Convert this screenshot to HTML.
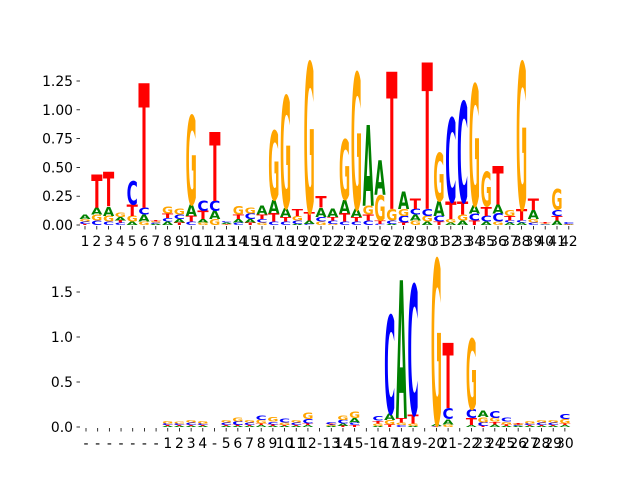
<!DOCTYPE html>
<html><head><meta charset="utf-8"><style>
html,body{margin:0;padding:0;background:#fff;}
svg{display:block;font-family:"DejaVu Sans","Liberation Sans",sans-serif;}
</style></head><body>
<svg id="chart" width="640" height="480" viewBox="0 0 640 480" xmlns="http://www.w3.org/2000/svg">
<g id="top"></g>
<g id="bot"></g>
</svg>
<script>
// Top logo data (42 positions)
const topLabels = ["1","2","3","4","5","6","7","8","9","10","11","12","13","14","15","16","17","18","19","20","21","22","23","24","25","26","27","28","29","30","31","32","33","34","35","36","37","38","39","40","41","42"];
const topA = [0.04,0.06,0.08,0.03,0.03,0.06,0.01,0.03,0.03,0.10,0.03,0.07,0.01,0.03,0.03,0.08,0.12,0.08,0.01,0.03,0.08,0.07,0.12,0.07,0.70,0.30,0.01,0.15,0.05,0.03,0.13,0.02,0.04,0.07,0.03,0.08,0.02,0.02,0.08,0.005,0.04,0.003];
const topC = [0.02,0.04,0.03,0.02,0.20,0.06,0.01,0.03,0.04,0.03,0.09,0.09,0.01,0.02,0.05,0.03,0.03,0.03,0.03,0.01,0.04,0.03,0.03,0.03,0.04,0.01,0.03,0.06,0.05,0.06,0.05,0.73,0.87,0.06,0.05,0.07,0.02,0.02,0.02,0.005,0.05,0.015];
const topG = [0.02,0.05,0.05,0.04,0.05,0.03,0.01,0.06,0.05,0.77,0.02,0.05,0.005,0.07,0.05,0.02,0.60,0.97,0.04,1.30,0.03,0.01,0.52,1.18,0.08,0.22,0.10,0.06,0.04,0.05,0.42,0.03,0.05,1.05,0.30,0.03,0.05,1.27,0.03,0.005,0.18,0.003];
const topT = [0.01,0.29,0.30,0.02,0.10,1.08,0.01,0.04,0.02,0.05,0.07,0.60,0.005,0.04,0.02,0.04,0.07,0.04,0.06,0.07,0.10,0.03,0.07,0.04,0.05,0.03,1.19,0.02,0.09,1.27,0.03,0.15,0.11,0.04,0.08,0.33,0.04,0.10,0.10,0.01,0.04,0.003];
const topYTicks = [0,0.25,0.5,0.75,1.0,1.25];
const topYTickLabels = ["0.00","0.25","0.50","0.75","1.00","1.25"];

// Bottom logo data (42 positions)
const botLabels = ["-","-","-","-","-","-","-","1","2","3","4","-","5","6","7","8","9","10","11","12","-","13","14","15","-","16","17","18","19","-","20","21","-","22","23","24","25","26","27","28","29","30"];
const botA = [0,0,0,0,0,0,0,0.01,0.01,0.01,0.01,0,0.01,0.01,0.01,0.02,0.01,0.01,0.01,0.02,0,0.01,0.03,0.05,0,0.01,0.07,1.53,0.01,0,0.02,0.06,0,0.02,0.07,0.03,0.01,0.01,0.01,0.01,0.01,0.02];
const botC = [0,0,0,0,0,0,0,0.02,0.02,0.03,0.02,0,0.03,0.04,0.03,0.05,0.03,0.04,0.03,0.05,0,0.03,0.04,0.03,0,0.05,1.09,0.02,1.44,0,0.005,0.12,0,0.10,0.04,0.08,0.04,0.01,0.02,0.03,0.03,0.06];
const botG = [0,0,0,0,0,0,0,0.03,0.02,0.03,0.03,0,0.03,0.04,0.03,0.04,0.05,0.03,0.03,0.07,0,0.01,0.05,0.07,0,0.03,0.05,0.03,0.03,0,1.83,0.03,0,0.78,0.06,0.04,0.03,0.01,0.03,0.03,0.03,0.05];
const botT = [0,0,0,0,0,0,0,0.01,0.01,0.01,0.01,0,0.01,0.01,0.01,0.02,0.02,0.01,0.01,0.02,0,0.01,0.01,0.02,0,0.03,0.03,0.05,0.10,0,0.005,0.72,0,0.08,0.01,0.03,0.02,0.01,0.01,0.01,0.01,0.02];
const botYTicks = [0,0.5,1.0,1.5];
const botYTickLabels = ["0.0","0.5","1.0","1.5"];

const NS = "http://www.w3.org/2000/svg";
const COLORS = {A:"#008000",C:"#0000ff",G:"#ffa500",T:"#ff0000"};

function mk(tag, parent, attrs){
  const e = document.createElementNS(NS, tag);
  for (const k in attrs) e.setAttribute(k, attrs[k]);
  parent.appendChild(e);
  return e;
}

function drawPanel(g, cfg){
  const xScale = i => cfg.x0 + i*cfg.dx;
  const yScale = v => cfg.y0 - v*cfg.unit;
  const w = cfg.dx*0.95;
  const n = cfg.labels.length;
  for (let i=0;i<n;i++){
    const items = [["A",cfg.A[i]],["C",cfg.C[i]],["G",cfg.G[i]],["T",cfg.T[i]]].sort((a,b)=>a[1]-b[1]);
    let acc = 0;
    for (const [L,h] of items){
      if (h<=0){ continue; }
      const yb = yScale(acc), hp = h*cfg.unit;
      acc += h;
      const fs = hp/0.729;
      const t = mk("text", g, {x:(xScale(i)-w/2).toFixed(2), y:yb.toFixed(2), "font-size":fs.toFixed(3), "font-weight":"bold", fill:COLORS[L], textLength:w.toFixed(2), lengthAdjust:"spacingAndGlyphs"});
      
      
      t.textContent = L;
    }
    const tk = mk("line", g, {x1:xScale(i), x2:xScale(i), y1:cfg.y0+1, y2:cfg.y0+4.5, stroke:"#000", "stroke-width":0.8});
    
    
    const lb = mk("text", g, {x:xScale(i), y:cfg.y0+21, "font-size":13.9, "text-anchor":"middle", fill:"#000"});
    
    
    lb.textContent = cfg.labels[i];
  }
  cfg.yt.forEach((v,k)=>{
    const y = yScale(v);
    const tk = mk("line", g, {x1:cfg.yx-3.5, x2:cfg.yx, y1:y, y2:y, stroke:"#000", "stroke-width":0.8});
    
    
    const lb = mk("text", g, {x:cfg.yx-7, y:y+5, "font-size":13.9, "text-anchor":"end", fill:"#000"});
    
    
    lb.textContent = cfg.ytl[k];
  });
}

drawPanel(document.getElementById("top"), {x0:85, dx:11.8, y0:225, unit:115.2, yx:80, labels:topLabels, A:topA, C:topC, G:topG, T:topT, yt:topYTicks, ytl:topYTickLabels});
drawPanel(document.getElementById("bot"), {x0:86, dx:11.68, y0:427, unit:90, yx:80, labels:botLabels, A:botA, C:botC, G:botG, T:botT, yt:botYTicks, ytl:botYTickLabels});
</script>
</body></html>
